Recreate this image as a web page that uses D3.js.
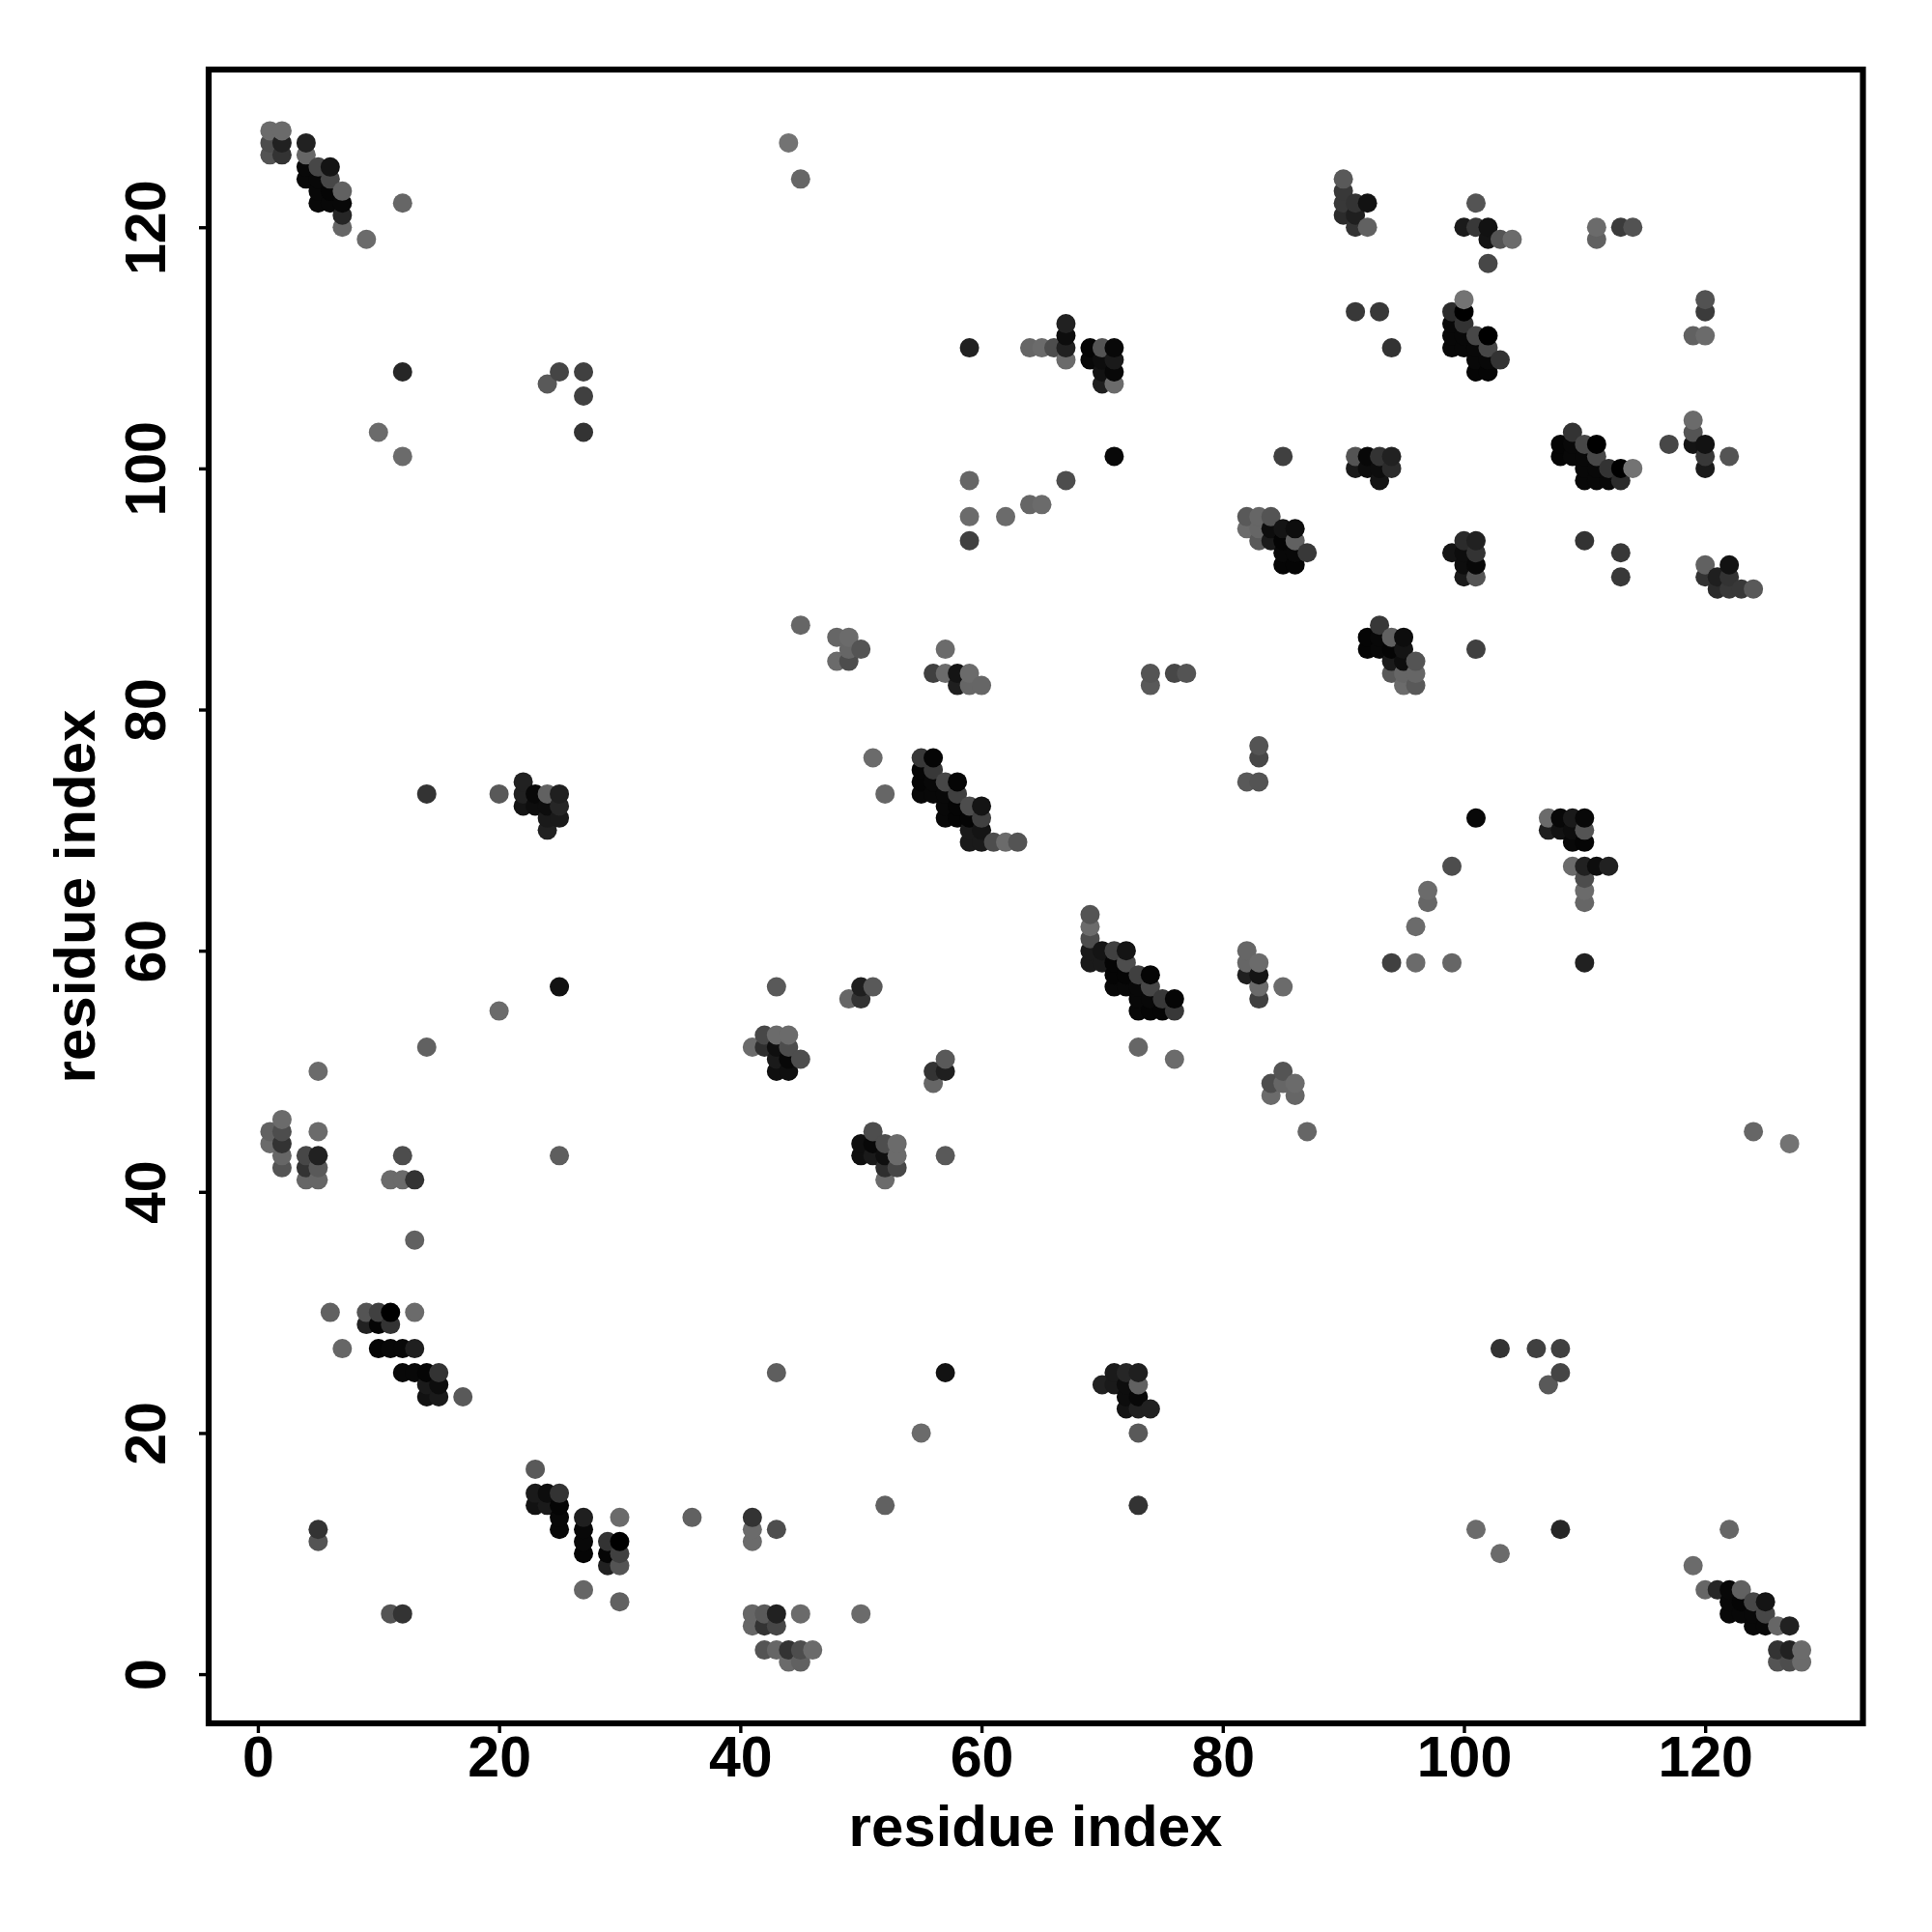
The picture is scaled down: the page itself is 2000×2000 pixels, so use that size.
<!DOCTYPE html>
<html>
<head>
<meta charset="utf-8">
<script src="https://cdn.jsdelivr.net/npm/d3@7"></script>
<style>
  body { margin: 0; background: #fff; }
  text { font-family: "Liberation Sans", Arial, sans-serif; font-weight: bold; fill: #000; }
</style>
</head>
<body>
<svg id="map" width="2000" height="2000"></svg>
<script>
// contact pairs, upper triangle only: [residue i, residue j, grey level]
const termini = [
  [1,128,.42],[2,128,.42],[1,127,.3],[2,127,.13],[1,126,.33],[2,126,.2],
  [4,127,.13],[4,126,.4],[4,125,.03],[4,124,.03],[5,125,.28],[5,124,.03],[5,123,.03],[5,122,.03],
  [6,125,.08],[6,124,.28],[6,123,.02],[6,122,.03],[7,123,.38],[7,122,.03],[7,121,.15],[7,120,.4],
  [9,119,.42],[12,122,.4],[12,108,.15],[10,103,.42],[12,101,.42],
  [24,107,.35],[25,108,.27],[27,108,.25],[27,106,.25],[27,103,.2],[44,127,.45],[45,124,.4]
];
const middleFar = [
  [59,110,.13],[64,110,.4],[65,110,.42],[66,110,.3],[67,112,.13],[67,111,.05],[67,110,.13],[67,109,.42],
  [69,110,.02],[69,109,.03],[70,110,.33],[70,109,.05],[70,108,.07],[70,107,.12],
  [71,110,.03],[71,109,.1],[71,108,.03],[71,107,.42],[71,101,.03],
  [59,99,.4],[67,99,.3],[64,97,.4],[65,97,.42],[59,96,.42],[62,96,.42],[59,94,.25]
];
const helixPairs = [
  [45,87,.4],[48,86,.4],[49,86,.42],[50,85,.33],[49,85,.4],[48,84,.42],[49,84,.3],
  [57,85,.42],[56,83,.25],[57,83,.42],[58,83,.08],[59,83,.42],[58,82,.12],[59,82,.4],[60,82,.4],
  [74,83,.33],[74,82,.35],[76,83,.28],[77,83,.33],[51,76,.42],[52,73,.4]
];
const strandA = [
  [55,76,.22],[56,76,.02],[55,75,.02],[56,75,.22],[55,74,.02],[56,74,.03],[57,74,.28],[58,74,.02],
  [55,73,.03],[56,73,.03],[57,73,.03],[58,73,.25],[57,72,.03],[58,72,.02],[59,72,.3],[60,72,.08],
  [57,71,.03],[58,71,.02],[59,71,.02],[60,71,.25],[59,70,.1],[60,70,.08],
  [59,69,.1],[60,69,.1],[61,69,.3],[62,69,.42],[63,69,.33]
];
const strandB = [
  [43,57,.35],[49,56,.4],[50,56,.2],[50,57,.12],[51,57,.35],
  [42,53,.28],[43,53,.42],[44,53,.42],[41,52,.42],[42,52,.18],[43,52,.06],[44,52,.3],
  [43,51,.1],[44,51,.03],[45,51,.3],[43,50,.06],[44,50,.06]
];
const nTermPairs = [
  [14,73,.2],[20,73,.35],[22,74,.13],[22,73,.13],[22,72,.08],[23,73,.03],[23,72,.05],
  [24,73,.38],[24,72,.05],[24,71,.1],[24,70,.13],[25,73,.12],[25,72,.15],[25,71,.1],
  [25,57,.07],[20,55,.42],[14,52,.38],[5,50,.42],[2,46,.42],[1,45,.38],[2,45,.3],[1,44,.42],[2,44,.2],
  [2,43,.4],[2,42,.33],[5,45,.42],[4,43,.28],[5,43,.13],[4,42,.2],[5,42,.35],[4,41,.4],[5,41,.4],
  [12,43,.3],[11,41,.42],[12,41,.42],[13,41,.2],[13,36,.38],[25,43,.37]
];
const hairpin = [
  [6,30,.38],[9,30,.33],[10,30,.25],[11,30,0],[13,30,.42],[9,29,.13],[10,29,.02],[11,29,.2],
  [7,27,.4],[10,27,.02],[11,27,.03],[12,27,.03],[13,27,.12],
  [12,25,.03],[13,25,.03],[14,25,.02],[15,25,.2],[14,24,.1],[15,24,.05],[14,23,.07],[15,23,.1],[17,23,.35],
  [5,12,.2],[5,11,.33]
];
const cTermCore = [
  [90,124,.35],[90,123,.22],[90,122,.22],[90,121,.17],[91,122,.2],[91,121,.12],[91,120,.2],[92,122,.07],[92,120,.38],
  [101,122,.33],[100,120,.1],[101,120,.22],[102,120,.07],[102,119,.08],[103,119,.33],[104,119,.42],[102,117,.28],
  [111,120,.42],[111,119,.38],[113,120,.23],[114,120,.32],[91,113,.22],[93,113,.22],[94,110,.2]
];
const cTermSheet = [
  [100,114,.45],[99,113,.17],[100,113,0],[99,112,.03],[100,112,.2],[99,111,.03],[100,111,.03],[101,111,.28],[102,111,0],
  [99,110,.03],[100,110,.03],[101,110,.03],[102,110,.28],[101,109,.03],[102,109,.03],[103,109,.2],[101,108,.02],[102,108,.02],
  [85,101,.25],[91,101,.33],[92,101,.03],[93,101,.2],[94,101,.13],[91,100,.1],[92,100,.05],[93,100,.05],[94,100,.17],[93,99,.08],
  [82,96,.35],[83,96,.4],[84,96,.33],[82,95,.42],[83,95,.4],[84,95,.05],[85,95,.08],[86,95,.05],
  [83,94,.35],[84,94,.1],[85,94,.02],[86,94,.38],[85,93,.03],[86,93,.03],[87,93,.22],[85,92,.02],[86,92,.02]
];
const xTicks = [0, 20, 40, 60, 80, 100, 120];
const yTicks = [0, 20, 40, 60, 80, 100, 120];
const axisTitle = "residue index";

const svg = d3.select("#map");

const x = d3.scaleLinear().domain([-4.08, 133.08]).range([216, 1928.5]);
const y = d3.scaleLinear().domain([-4.08, 133.08]).range([1784, 72]);

const grey = d3.scaleLinear().domain([0, 1]).range(["#000000", "#ffffff"]);

const upper = [
  ...termini, ...middleFar, ...helixPairs, ...strandA, ...strandB,
  ...nTermPairs, ...hairpin, ...cTermCore, ...cTermSheet,
];

// the map is symmetric, so every pair is drawn on both sides of the diagonal
const points = upper
  .flatMap((d) => [d, [d[1], d[0], d[2]]])
  .sort((a, b) => d3.ascending(a[0], b[0]) || d3.ascending(a[1], b[1]));

svg
  .selectAll("circle")
  .data(points)
  .join("circle")
  .attr("cx", (d) => x(d[0]))
  .attr("cy", (d) => y(d[1]))
  .attr("r", 10)
  .attr("fill", (d) => grey(d[2]));

svg
  .append("rect")
  .attr("x", 216)
  .attr("y", 72)
  .attr("width", 1712.5)
  .attr("height", 1712)
  .attr("fill", "none")
  .attr("stroke", "#000")
  .attr("stroke-width", 6.2);

const xAxis = svg
  .append("g")
  .attr("transform", "translate(0,1784)")
  .call(d3.axisBottom(x).tickValues(xTicks).tickSize(10).tickPadding(3));

const yAxis = svg
  .append("g")
  .attr("transform", "translate(216,0)")
  .call(d3.axisLeft(y).tickValues(yTicks).tickSize(10));

[xAxis, yAxis].forEach((axis) => {
  axis.select(".domain").remove();
  axis.selectAll("line").attr("stroke", "#000").attr("stroke-width", 3.4);
  axis.selectAll("text").attr("font-size", 59);
});

yAxis
  .selectAll("text")
  .attr("x", 0)
  .attr("y", 0)
  .attr("dy", 0)
  .attr("text-anchor", "middle")
  .attr("transform", "translate(-45,0) rotate(-90)");

svg
  .append("text")
  .attr("x", 1072)
  .attr("y", 1911)
  .attr("text-anchor", "middle")
  .attr("font-size", 60)
  .text(axisTitle);

svg
  .append("text")
  .attr("transform", "translate(98,928) rotate(-90)")
  .attr("text-anchor", "middle")
  .attr("font-size", 60)
  .text(axisTitle);
</script>
</body>
</html>
